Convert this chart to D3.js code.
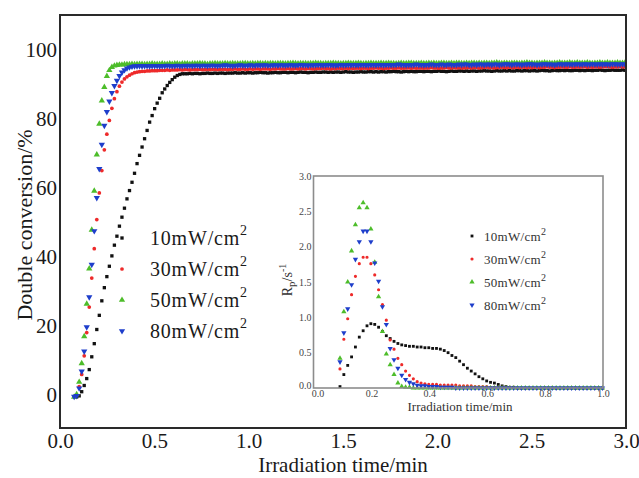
<!DOCTYPE html>
<html><head><meta charset="utf-8">
<script src="https://cdn.jsdelivr.net/npm/d3@7"></script>
<style>body{margin:0;background:#fff}svg{display:block}</style>
</head><body><svg id="c" width="639" height="478"></svg>
<script>
// ---------- data ----------
const seriesNames = ["10mW/cm", "30mW/cm", "50mW/cm", "80mW/cm"];
const seriesColors = ["#111111", "#ee2a2a", "#4dbd2a", "#1e3ecb"];
const mainT0 = 0.075, mainDt = 1 / 75;          // sampling of conversion curves (min)
const mainStart = [1, 0, 0, 0];                  // first sample index of each series
const conv10 = [-0.5,-0.2,1.0,2.8,4.8,7.4,11.1,14.9,19.0,23.1,27.3,31.1,34.3,37.3,40.3,43.4,46.0,48.9,51.5,54.1,56.8,59.2,61.6,64.2,67.0,69.4,71.8,74.2,76.6,79.0,80.9,82.9,84.5,85.9,87.5,88.6,89.6,90.5,91.3,92.0,92.5,92.8,93.0,
93.0,93.0,93.1,93.0,93.1,93.1,93.0,93.1,93.1,93.2,93.1,93.1,93.2,93.1,93.2,93.2,93.1,93.2,93.2,93.2,
93.3,93.2,93.2,93.3,93.2,93.3,93.3,93.2,93.3,93.3,93.4,93.3,93.3,93.2,93.3,93.3,93.4,93.3,93.3,93.4,
93.4,93.3,93.4,93.4,93.3,93.4,93.5,93.4,93.4,93.3,93.4,93.4,93.5,93.4,93.4,93.5,93.5,93.4,93.5,93.4,
93.5,93.5,93.4,93.5,93.6,93.5,93.5,93.4,93.5,93.5,93.6,93.5,93.5,93.6,93.6,93.5,93.6,93.5,93.6,93.6,
93.5,93.6,93.6,93.7,93.6,93.6,93.5,93.6,93.7,93.6,93.7,93.6,93.6,93.7,93.7,93.6,93.7,93.7,93.6,93.7,
93.7,93.8,93.7,93.7,93.6,93.7,93.8,93.7,93.7,93.8,93.8,93.7,93.8,93.7,93.8,93.8,93.7,93.8,93.8,93.9,
93.8,93.8,93.7,93.8,93.9,93.8,93.8,93.9,93.8,93.9,93.8,93.8,93.9,93.9,93.8,93.9,93.9,93.8,93.9,93.9,
93.8,93.9,94.0,93.9,93.9,93.8,93.9,94.0,93.9,93.9,94.0,93.9,94.0,93.9,93.9,94.0,94.0,93.9,94.0,93.9,
94.0,94.0,93.9,94.0,94.0,94.1,94.0,93.9,94.0,94.0,94.1,94.0,94.0,94.0,94.1,94.0];
const conv30 = [-0.4,0.0,2.5,6.0,11.4,18.1,25.5,33.9,42.4,50.8,58.5,65.0,71.0,75.5,79.5,83.0,85.8,87.8,89.4,90.6,91.5,92.1,92.6,93.0,93.3,
93.5,93.6,93.7,93.7,93.8,93.8,93.9,93.9,93.9,94.0,94.0,94.0,94.1,94.0,94.1,94.1,94.1,94.2,94.1,94.2,
94.2,94.1,94.2,94.2,94.2,94.3,94.2,94.2,94.3,94.2,94.3,94.3,94.2,94.3,94.3,94.3,94.2,94.3,94.3,94.4,
94.3,94.3,94.4,94.3,94.3,94.4,94.3,94.4,94.4,94.3,94.4,94.4,94.4,94.3,94.4,94.4,94.5,94.4,94.4,94.4,
94.5,94.4,94.4,94.5,94.4,94.5,94.5,94.4,94.5,94.5,94.4,94.5,94.5,94.5,94.6,94.5,94.5,94.4,94.5,94.5,
94.6,94.5,94.5,94.6,94.5,94.6,94.5,94.6,94.6,94.5,94.6,94.6,94.5,94.6,94.6,94.7,94.6,94.6,94.5,94.6,
94.6,94.7,94.6,94.6,94.7,94.6,94.6,94.7,94.7,94.6,94.7,94.6,94.7,94.7,94.6,94.7,94.7,94.8,94.7,94.7,
94.6,94.7,94.7,94.8,94.7,94.7,94.8,94.7,94.8,94.7,94.7,94.8,94.8,94.7,94.8,94.8,94.7,94.8,94.8,94.9,
94.8,94.8,94.7,94.8,94.8,94.9,94.8,94.8,94.9,94.8,94.8,94.9,94.8,94.9,94.9,94.8,94.9,94.8,94.9,94.9,
94.8,94.9,94.9,95.0,94.9,94.9,94.8,94.9,94.9,95.0,94.9,94.9,95.0,94.9,94.9,95.0,94.9,95.0,95.0,94.9,
95.0,94.9,95.0,95.0,94.9,95.0,95.0,95.1,95.0,94.9,95.0,95.0,95.1,95.0,95.0];
const conv50 = [-0.5,0.2,3.8,9.2,17.0,26.4,36.6,47.8,59.1,69.6,78.5,85.2,89.1,92.3,94.0,94.9,95.3,95.5,
95.6,95.6,95.7,95.7,95.7,95.8,95.7,95.8,95.8,95.8,95.7,95.8,95.8,95.9,95.8,95.8,95.8,95.9,95.8,95.8,
95.9,95.8,95.9,95.9,95.8,95.9,95.9,95.9,95.8,95.9,95.9,95.9,96.0,95.9,95.9,95.8,95.9,95.9,96.0,95.9,
95.9,95.9,96.0,95.9,95.9,96.0,95.9,95.9,95.9,96.0,96.0,95.9,95.9,96.0,95.9,96.0,96.0,95.9,96.0,95.9,
96.0,96.0,95.9,96.0,96.0,96.0,95.9,96.0,96.0,96.1,96.0,95.9,96.0,96.0,96.0,95.9,96.0,96.0,96.1,96.0,
96.0,95.9,96.0,96.0,96.0,96.1,96.0,96.0,95.9,96.0,96.0,96.1,96.0,96.0,96.0,96.1,96.0,95.9,96.0,96.0,
96.1,96.0,96.0,96.0,96.1,96.0,96.0,96.1,96.0,96.0,95.9,96.0,96.1,96.0,96.0,96.1,96.1,96.0,96.0,96.0,
96.1,96.0,96.0,96.1,96.0,96.1,96.0,96.0,96.1,96.1,96.0,96.0,96.1,96.0,96.1,96.1,96.0,96.0,96.1,96.0,
96.1,96.1,96.0,96.1,96.0,96.1,96.1,96.0,96.1,96.1,96.2,96.1,96.0,96.1,96.1,96.0,96.1,96.1,96.1,96.0,
96.1,96.1,96.2,96.1,96.1,96.0,96.1,96.1,96.1,96.2,96.1,96.1,96.0,96.1,96.1,96.2,96.1,96.1,96.1,96.2,
96.1,96.1,96.2,96.1,96.1,96.1,96.2,96.1,96.0,96.1,96.1,96.2,96.1,96.1,96.2,96.1,96.1,96.1,96.2,96.1,
96.1,96.2];
const conv80 = [-0.4,-0.2,2.0,6.9,12.7,19.7,28.4,37.8,47.5,57.1,65.5,72.5,78.0,82.0,85.0,87.5,89.5,91.0,92.4,93.4,94.1,94.6,94.9,95.1,95.2,
95.2,95.3,95.2,95.3,95.3,95.2,95.3,95.3,95.3,95.2,95.3,95.3,95.4,95.3,95.3,95.3,95.4,95.3,95.3,95.4,
95.3,95.4,95.3,95.4,95.4,95.3,95.4,95.4,95.3,95.4,95.4,95.4,95.3,95.4,95.4,95.5,95.4,95.4,95.3,95.4,
95.4,95.5,95.4,95.4,95.4,95.5,95.4,95.4,95.5,95.4,95.5,95.5,95.4,95.4,95.5,95.5,95.4,95.5,95.5,95.4,
95.5,95.5,95.5,95.4,95.5,95.6,95.5,95.5,95.4,95.5,95.5,95.5,95.6,95.5,95.5,95.5,95.6,95.5,95.5,95.4,
95.5,95.6,95.5,95.5,95.6,95.5,95.6,95.5,95.5,95.6,95.6,95.5,95.5,95.6,95.6,95.5,95.6,95.6,95.5,95.6,
95.6,95.5,95.6,95.6,95.7,95.6,95.6,95.5,95.6,95.6,95.6,95.7,95.6,95.6,95.5,95.6,95.6,95.7,95.6,95.6,
95.6,95.7,95.6,95.6,95.7,95.6,95.6,95.6,95.7,95.6,95.7,95.7,95.6,95.6,95.7,95.6,95.7,95.7,95.6,95.7,
95.7,95.6,95.7,95.7,95.6,95.7,95.7,95.8,95.7,95.6,95.7,95.7,95.7,95.6,95.7,95.7,95.8,95.7,95.7,95.6,
95.7,95.7,95.8,95.7,95.7,95.7,95.6,95.7,95.8,95.7,95.7,95.8,95.7,95.7,95.7,95.8,95.7,95.7,95.8,95.7,
95.7,95.8,95.7,95.7,95.8,95.7,95.8,95.7,95.7,95.8,95.8,95.7,95.7,95.8,95.7];

const insetT0 = 0.0915, insetDt = 1 / 75;        // sampling of polymerization-rate curves (min)
const rate10 = [0.02,0.19,0.32,0.44,0.58,0.72,0.81,0.88,0.91,0.90,
0.86,0.80,0.74,0.70,0.66,0.63,0.61,0.60,0.59,0.59,
0.58,0.58,0.57,0.57,0.56,0.56,0.55,0.53,0.50,0.46,
0.43,0.38,0.33,0.28,0.24,0.20,0.16,0.13,0.10,0.08,
0.07,0.05,0.03,0.02,0.01,0.01,0,0,0,0,
0,0,0,0,0,0,0,0,0,0,
0,0,0,0,0,0,0,0,0];
const rate30 = [0.27,0.69,0.98,1.32,1.58,1.76,1.85,1.85,1.76,1.60,
1.39,1.18,0.96,0.68,0.55,0.42,0.33,0.24,0.18,0.13,
0.09,0.07,0.06,0.05,0.05,0.05,0.04,0.04,0.04,0.04,
0.04,0.03,0.03,0.03,0.03,0.02,0.02,0.02,0.02,0.01,
0.01,0.01,0.01,0.01,0.01,0.01,0,0,0,0,
0,0,0,0,0,0,0,0,0,0,
0,0,0,0,0,0,0,0,0];
const rate50 = [0.42,1.08,1.50,1.94,2.31,2.55,2.62,2.55,2.25,1.78,
1.29,0.80,0.48,0.33,0.19,0.07,0.02,0.01,0.01,0,
0,0,0,0,0,0,0,0,0,0,
0,0,0,0,0,0,0,0,0,0,
0,0,0,0,0,0,0,0,0,0,
0,0,0,0,0,0,0,0,0,0,
0,0,0,0,0,0,0,0,0];
const rate80 = [0.37,0.78,1.12,1.46,1.82,2.07,2.22,2.22,2.07,1.77,
1.51,1.15,0.90,0.56,0.40,0.28,0.18,0.12,0.08,0.06,
0.04,0.03,0.03,0.02,0.02,0.02,0.01,0.01,0.01,0.01,
0,0,0,0,0,0,0,0,0,0,
0,0,0,0,0,0,0,0,0,0,
0,0,0,0,0,0,0,0,0,0,
0,0,0,0,0,0,0,0,0];

const mainXTicks = [0, 0.5, 1.0, 1.5, 2.0, 2.5, 3.0];
const mainYTicks = [0, 20, 40, 60, 80, 100];
const insetXTicks = [0, 0.2, 0.4, 0.6, 0.8, 1.0];
const insetYTicks = [0, 0.5, 1.0, 1.5, 2.0, 2.5, 3.0];

// ---------- drawing ----------
const FONT = "'Liberation Serif','Times New Roman',serif";
const convSeries = [conv10, conv30, conv50, conv80];
const rateSeries = [rate10, rate30, rate50, rate80];
const symTypes = [d3.symbolSquare, d3.symbolCircle, d3.symbolTriangle, d3.symbolTriangle];
const symRot = [0, 0, 0, 180];

const svg = d3.select("#c");
svg.append("rect").attr("width", 639).attr("height", 478).attr("fill", "#fff");

const x = d3.scaleLinear().domain([0, 3]).range([60, 626]);
const y = d3.scaleLinear().domain([-9.5, 110]).range([428, 15]);

svg.append("defs").append("clipPath").attr("id", "mclip")
  .append("rect").attr("x", 60).attr("y", 15).attr("width", 566).attr("height", 413);

function marker(g, i, px, py, size) {
  g.append("path")
    .attr("d", d3.symbol().type(symTypes[i]).size(size)())
    .attr("transform", `translate(${px},${py}) rotate(${symRot[i]})`)
    .attr("fill", seriesColors[i]);
}

const mainSizes = [11, 11, 17, 17];
const gData = svg.append("g").attr("clip-path", "url(#mclip)");
convSeries.forEach((vals, i) => {
  const g = gData.append("g");
  vals.forEach((v, j) => {
    const t = mainT0 + (mainStart[i] + j) * mainDt;
    marker(g, i, x(t), y(v), mainSizes[i]);
  });
});

// main frame
svg.append("rect").attr("x", 60).attr("y", 15).attr("width", 566).attr("height", 413)
  .attr("fill", "none").attr("stroke", "#2a2a2a").attr("stroke-width", 2);

// main axes
const ax = svg.append("g").attr("transform", "translate(0,428)")
  .call(d3.axisBottom(x).tickValues(mainXTicks).tickSize(0).tickPadding(5).tickFormat(d3.format(".1f")));
ax.select(".domain").remove();
ax.selectAll("text").attr("font-family", FONT).attr("font-size", 21).attr("fill", "#1a1a1a");
const ay = svg.append("g").attr("transform", "translate(60,0)")
  .call(d3.axisLeft(y).tickValues(mainYTicks).tickSize(0).tickPadding(3).tickFormat(d3.format("d")));
ay.select(".domain").remove();
ay.selectAll("text").attr("font-family", FONT).attr("font-size", 21).attr("fill", "#1a1a1a");

svg.append("text").attr("x", 343).attr("y", 472).attr("text-anchor", "middle")
  .attr("font-family", FONT).attr("font-size", 21).attr("fill", "#1a1a1a").text("Irradiation time/min");
svg.append("text").attr("transform", "translate(32,225) rotate(-90)").attr("text-anchor", "middle")
  .attr("font-family", FONT).attr("font-size", 22).attr("fill", "#1a1a1a").text("Double conversion/%");

// main legend
const legMainY = [238, 269, 300, 331];
seriesNames.forEach((name, i) => {
  marker(svg, i, 122, legMainY[i], mainSizes[i]);
  const t = svg.append("text").attr("x", 150).attr("y", legMainY[i] + 7)
    .attr("font-family", FONT).attr("font-size", 20).attr("letter-spacing", 0.8).attr("fill", "#1a1a1a");
  t.append("tspan").text(name);
  t.append("tspan").attr("dy", -10).attr("font-size", 14).text("2");
});

// ---------- inset ----------
const xi = d3.scaleLinear().domain([0, 1]).range([313.5, 603]);
const yi = d3.scaleLinear().domain([0, 3]).range([388, 176]);
svg.append("rect").attr("x", 313.5).attr("y", 176).attr("width", 289.5).attr("height", 212)
  .attr("fill", "#fff");

const insetSizes = [8, 8, 12, 12];
const gIn = svg.append("g");
rateSeries.forEach((vals, i) => {
  const g = gIn.append("g");
  vals.forEach((v, j) => {
    marker(g, i, xi(insetT0 + j * insetDt), yi(v), insetSizes[i]);
  });
});

svg.append("rect").attr("x", 313.5).attr("y", 176).attr("width", 289.5).attr("height", 212)
  .attr("fill", "none").attr("stroke", "#8c8c8c").attr("stroke-width", 1.6);

const axi = svg.append("g").attr("transform", "translate(0,388)")
  .call(d3.axisBottom(xi).tickValues(insetXTicks).tickSize(0).tickPadding(2).tickFormat(d3.format(".1f")));
axi.select(".domain").remove();
axi.selectAll("text").attr("font-family", FONT).attr("font-size", 10).attr("fill", "#444")
  .attr("dx", d => d === 0 ? 4 : 0);
const ayi = svg.append("g").attr("transform", "translate(313.5,0)")
  .call(d3.axisLeft(yi).tickValues(insetYTicks).tickSize(0).tickPadding(2).tickFormat(d3.format(".1f")));
ayi.select(".domain").remove();
ayi.selectAll("text").attr("font-family", FONT).attr("font-size", 10).attr("fill", "#444")
  .attr("dy", d => d === 0 ? "0.05em" : "0.32em");

svg.append("text").attr("x", 460).attr("y", 411).attr("text-anchor", "middle")
  .attr("font-family", FONT).attr("font-size", 13).attr("fill", "#333").text("Irradiation time/min");
const yl = svg.append("text").attr("transform", "translate(292,280) rotate(-90)").attr("text-anchor", "middle")
  .attr("font-family", FONT).attr("font-size", 14).attr("fill", "#333");
yl.append("tspan").text("R");
yl.append("tspan").attr("dy", 3).attr("font-size", 11).text("p");
yl.append("tspan").attr("dy", -3).text("/s");
yl.append("tspan").attr("dy", -6).attr("font-size", 10).text("-1");

const legInY = [236, 259, 282, 305];
seriesNames.forEach((name, i) => {
  marker(svg, i, 472, legInY[i], insetSizes[i]);
  const t = svg.append("text").attr("x", 484).attr("y", legInY[i] + 4.5)
    .attr("font-family", FONT).attr("font-size", 13).attr("letter-spacing", 0.3).attr("fill", "#333");
  t.append("tspan").text(name);
  t.append("tspan").attr("dy", -6).attr("font-size", 10).text("2");
});
</script>
</body></html>
